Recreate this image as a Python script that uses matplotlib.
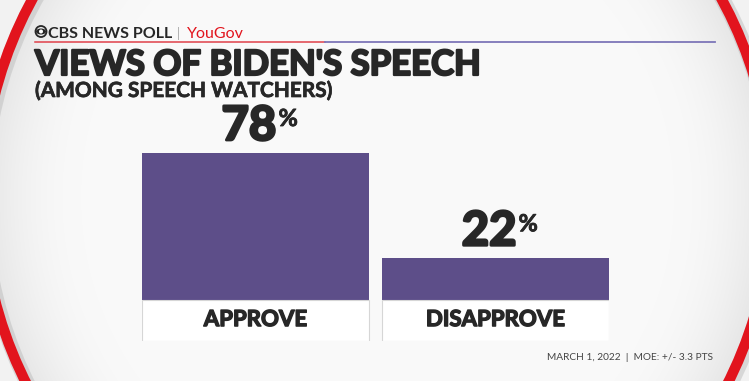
import numpy as np
import matplotlib
matplotlib.use('Agg')
import matplotlib.pyplot as plt
import matplotlib.patheffects as pe
from matplotlib.patches import Ellipse, Circle

# данные
categories = ['APPROVE', 'DISAPPROVE']
values = [78, 22]
title = "VIEWS OF BIDEN'S SPEECH"
subtitle = '(AMONG SPEECH WATCHERS)'
footer = 'MARCH 1, 2022  |  MOE: +/- 3.3 PTS'

W, H = 749, 381
BAR_COLOR = '#5d4e89'
DARK = '#272727'
FONT = 'Lato'


def heavy(lw):
    # утолщаем буквы обводкой того же цвета
    return [pe.Stroke(linewidth=lw, foreground=DARK), pe.Normal()]


fig = plt.figure(figsize=(W / 100, H / 100), dpi=100)

# фон в пиксельных координатах
bg = fig.add_axes([0, 0, 1, 1])
bg.set_xlim(0, W)
bg.set_ylim(H, 0)
bg.axis('off')

cx, cy, ea, eb = 377, 197, 395, 405
yy, xx = np.mgrid[0:H, 0:W]
rn = np.sqrt(((xx - cx) / ea) ** 2 + ((yy - cy) / eb) ** 2)
shade = np.clip((rn - 0.75) / 0.25, 0, 1) ** 1.8
gray = np.where(rn < 1, 249 - 20 * shade, 242) / 255
img = np.dstack([gray, gray, gray])
bg.imshow(img, extent=(0, W, H, 0), aspect='auto', zorder=0)

# красное кольцо с тенью
bg.add_patch(Ellipse((cx + 2, cy + 2), 2 * ea, 2 * eb, fill=False,
                     lw=11, ec='#b8b8b8', alpha=0.45, zorder=1))
bg.add_patch(Ellipse((cx, cy), 2 * ea, 2 * eb, fill=False,
                     lw=7.5, ec='#e2141d', zorder=2))

# шапка
bg.add_patch(Circle((41, 31.5), 5.5, fc='none', ec=DARK, lw=1.3, zorder=3))
bg.add_patch(Ellipse((41, 31.5), 10, 6, fc=DARK, ec='none', zorder=3))
bg.add_patch(Circle((41, 31.5), 2, fc='white', ec='none', zorder=3))
bg.text(48, 37.5, 'CBS NEWS POLL', fontsize=11.5, fontweight='bold',
        color=DARK, family=FONT, va='baseline', zorder=3)
bg.text(177, 37.5, '|', fontsize=9, color='#aaaaaa', family=FONT, va='baseline')
bg.text(187, 37.5, 'YouGov', fontsize=11.5, color='#e2141d', family=FONT,
        va='baseline', zorder=3)
bg.plot([35, 325], [42, 42], color='#e0404a', lw=1.1, zorder=3)
bg.plot([325, 715], [42, 42], color='#7d76b8', lw=1.3, zorder=3)

bg.text(35, 75, title, fontsize=25, fontweight='bold', color=DARK,
        family=FONT, va='baseline', zorder=3, path_effects=heavy(1.6))
bg.text(35, 97, subtitle, fontsize=15, fontweight='bold', color=DARK,
        family=FONT, va='baseline', zorder=3, path_effects=heavy(0.5))
bg.text(713, 360, footer, fontsize=7.3, color='#444444', family=FONT,
        ha='right', va='baseline', zorder=3)

# столбцы
px_per_unit = 1.88
bottom_px = 341
top_px = bottom_px - 122 * px_per_unit
ax = fig.add_axes([142 / W, (H - bottom_px) / H, 467 / W,
                   (bottom_px - top_px) / H])
ax.set_xlim(-0.473, 1.473)
ax.set_ylim(-22, 100)
ax.axis('off')
ax.patch.set_alpha(0)

x = np.arange(len(categories))
ax.bar(x, values, width=0.946, color=BAR_COLOR, zorder=2)
ax.bar(x, [21.6] * len(x), bottom=-21.8, width=0.946, color='white',
       edgecolor='#d6d6d6', lw=0.8, zorder=2)

for i, (cat, v) in enumerate(zip(categories, values)):
    ax.text(i, -10.6, cat, ha='center', va='center', fontsize=16,
            fontweight='bold', color=DARK, family=FONT,
            path_effects=heavy(1.0))
    ax.annotate(str(v), (i, v), xytext=(21, 13), textcoords='offset pixels',
                ha='right', va='baseline', fontsize=34, fontweight='bold',
                color=DARK, family=FONT, path_effects=heavy(2.0))
    ax.annotate('%', (i, v), xytext=(23, 27), textcoords='offset pixels',
                ha='left', va='baseline', fontsize=17, fontweight='bold',
                color=DARK, family=FONT, path_effects=heavy(0.6))

fig.savefig('out.png', dpi=100)
